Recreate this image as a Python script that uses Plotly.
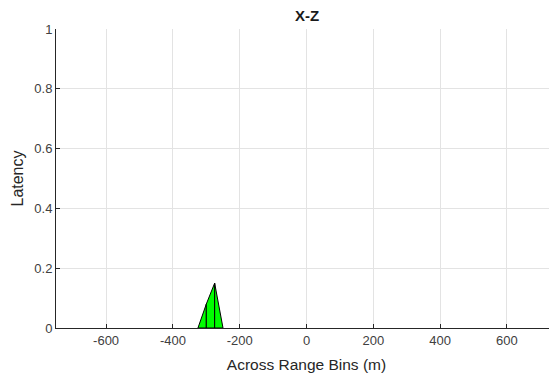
import plotly.graph_objects as go

# Data
x_vals = [-325, -300, -275, -250]
latency = [0.0, 0.08, 0.15, 0.0]

x_ticks = [-600, -400, -200, 0, 200, 400, 600]
x_tick_labels = ["-600", "-400", "-200", "0", "200", "400", "600"]
y_ticks = [0, 0.2, 0.4, 0.6, 0.8, 1]
y_tick_labels = ["0", "0.2", "0.4", "0.6", "0.8", "1"]

fig = go.Figure()

# each segment drawn as its own filled patch (black edges, green fill)
for i in range(len(x_vals) - 1):
    xs = [x_vals[i], x_vals[i], x_vals[i + 1], x_vals[i + 1], x_vals[i]]
    ys = [0, latency[i], latency[i + 1], 0, 0]
    fig.add_trace(go.Scatter(
        x=xs, y=ys, mode="lines", fill="toself",
        fillcolor="#00ff00", line=dict(color="black", width=1),
        hoverinfo="skip", showlegend=False,
    ))

font_family = "Liberation Sans, Arial, Helvetica, sans-serif"
axis_common = dict(
    showgrid=True, gridcolor="#e3e3e3", gridwidth=1,
    zeroline=False, showline=True, linecolor="#262626", linewidth=1,
    ticks="inside", ticklen=4, tickcolor="#262626",
    tickfont=dict(family=font_family, size=13, color="#404040"),
    mirror=False, automargin=False,
)

W, H = 549, 365  # page body has an 8px offset; keep it from overflowing
fig.update_layout(
    width=W, height=H,
    margin=dict(l=48, r=0, t=21, b=H - 320, autoexpand=False),
    paper_bgcolor="white", plot_bgcolor="white",
    showlegend=False,
    title=dict(text="<b>X-Z</b>", x=299 / W, xanchor="center",
               y=1 - 8 / H, yanchor="middle",
               font=dict(family=font_family, size=15, color="#1a1a1a")),
    xaxis=dict(range=[-750, 750], tickvals=x_ticks, ticktext=x_tick_labels,
               title=dict(text="Across Range Bins (m)", standoff=12,
                          font=dict(family=font_family, size=15.5, color="#262626")),
               **axis_common),
    yaxis=dict(range=[0, 1], tickvals=y_ticks, ticktext=y_tick_labels,
               title=dict(text="Latency", standoff=6,
                          font=dict(family=font_family, size=16, color="#262626")),
               **axis_common),
)

fig.write_html("out.html")
